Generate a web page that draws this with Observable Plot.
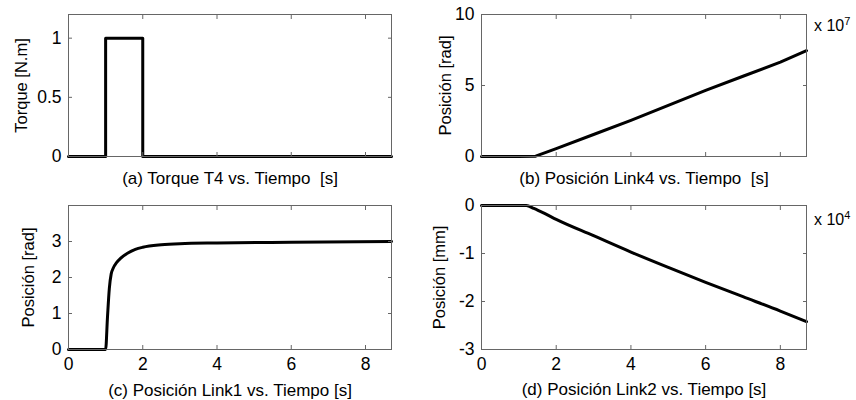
<!DOCTYPE html>
<html><head><meta charset="utf-8">
<script src="https://cdn.jsdelivr.net/npm/d3@7"></script>
<script src="https://cdn.jsdelivr.net/npm/@observablehq/plot@0.6"></script>
<style>
body{margin:0;background:#fff;}
#wrap{position:relative;width:856px;height:400px;font-family:"Liberation Sans",Arial,sans-serif;background:#fff;}
.p{position:absolute;}
.exp{position:absolute;font-size:16px;color:#000;white-space:nowrap;}
.exp sup{font-size:11px;}
</style></head><body><div id="wrap"></div>
<script>
// (a) Torque T4
const tA = [0, 1, 2, 8.7];
const torque = [0, 1, 0, 0];
// (b) Posición Link4 (x 10^7 rad)
const tB = [0, 1, 1.45, 2, 3, 4, 5, 6, 7, 8, 8.7];
const posLink4 = [0, 0, 0.02, 0.55, 1.55, 2.55, 3.6, 4.65, 5.65, 6.65, 7.45];
// (c) Posición Link1 (rad)
const tC = [0, 1, 1.05, 1.1, 1.15, 1.2, 1.3, 1.4, 1.6, 1.8, 2, 2.5, 3, 4, 6, 8.7];
const posLink1 = [0, 0, 0.9, 1.7, 2.1, 2.25, 2.42, 2.53, 2.68, 2.78, 2.84, 2.91, 2.94, 2.96, 2.98, 3.0];
// (d) Posición Link2 (x 10^4 mm)
const tD = [0, 1.2, 1.4, 1.7, 2, 3, 4, 5, 6, 7, 8, 8.7];
const posLink2 = [0, 0, -0.06, -0.17, -0.29, -0.63, -0.97, -1.29, -1.6, -1.9, -2.2, -2.42];

const xTicks = [0, 2, 4, 6, 8];
const xDomain = [0, 8.7];
const captions = ["(a) Torque T4 vs. Tiempo  [s]", "(b) Posición Link4 vs. Tiempo  [s]", "(c) Posición Link1 vs. Tiempo [s]", "(d) Posición Link2 vs. Tiempo [s]"];
const yLabels = ["Torque [N.m]", "Posición [rad]", "Posición [rad]", "Posición [mm]"];

const FONT = "Liberation Sans, Arial, sans-serif";
const fmt = d => String(d);
const blank = () => "";

function panel({t, v, curve, yDomain, yTicks, showX, caption, ylabel, left, top, w, h, ml, mr, mt, mb, capOffset, yOffset}) {
  const data = t.map((x, i) => ({t: x, v: v[i]}));
  const svg = Plot.plot({
    width: w, height: h,
    marginLeft: ml, marginRight: mr, marginTop: mt, marginBottom: mb,
    style: {fontFamily: FONT, fontSize: "17px", color: "#000", background: "transparent", overflow: "visible"},
    x: {domain: xDomain},
    y: {domain: yDomain},
    marks: [
      Plot.line(data, {x: "t", y: "v", curve, stroke: "#000", strokeWidth: 3}),
      Plot.frame({stroke: "#666"}),
      // tick marks + tick labels
      Plot.axisX({ticks: xTicks, tickSize: -4, tickPadding: 12, stroke: "#666", tickFormat: showX ? fmt : blank, fontSize: 17.5, label: null}),
      Plot.axisX({anchor: "top", ticks: xTicks, tickSize: -4, stroke: "#666", tickFormat: blank, label: null}),
      Plot.axisY({ticks: yTicks, tickSize: -4, tickPadding: 11, stroke: "#666", tickFormat: fmt, fontSize: 17.5, label: null}),
      Plot.axisY({anchor: "right", ticks: yTicks, tickSize: -4, stroke: "#666", tickFormat: blank, label: null}),
      // caption and axis title
      Plot.axisX({ticks: xTicks, tickSize: 0, tickFormat: blank, fontSize: 17,
        label: caption, labelAnchor: "center", labelArrow: "none", labelOffset: capOffset}),
      Plot.axisY({ticks: yTicks, tickSize: 0, tickFormat: blank, fontSize: 16.5,
        label: ylabel, labelAnchor: "center", labelArrow: "none", labelOffset: yOffset})
    ]
  });
  const d = document.createElement("div");
  d.className = "p";
  d.style.left = left + "px";
  d.style.top = top + "px";
  d.appendChild(svg);
  return d;
}

const wrap = document.getElementById("wrap");
wrap.appendChild(panel({t: tA, v: torque, curve: "step-after", yDomain: [0, 1.2], yTicks: [0, 0.5, 1], showX: false,
  caption: captions[0], ylabel: yLabels[0], left: 0, top: 0, w: 428, h: 195, ml: 68, mr: 37, mt: 14, mb: 39, capOffset: 27, yOffset: 53}));
wrap.appendChild(panel({t: tB, v: posLink4, curve: "linear", yDomain: [0, 10], yTicks: [0, 5, 10], showX: false,
  caption: captions[1], ylabel: yLabels[1], left: 428, top: 0, w: 428, h: 195, ml: 53, mr: 50, mt: 14, mb: 39, capOffset: 27, yOffset: 42}));
wrap.appendChild(panel({t: tC, v: posLink1, curve: "monotone-x", yDomain: [0, 4], yTicks: [0, 1, 2, 3], showX: true,
  caption: captions[2], ylabel: yLabels[2], left: 0, top: 195, w: 428, h: 205, ml: 68, mr: 37, mt: 10, mb: 51, capOffset: 46, yOffset: 46}));
wrap.appendChild(panel({t: tD, v: posLink2, curve: "monotone-x", yDomain: [-3, 0], yTicks: [-3, -2, -1, 0], showX: true,
  caption: captions[3], ylabel: yLabels[3], left: 428, top: 195, w: 428, h: 205, ml: 53, mr: 50, mt: 10, mb: 51, capOffset: 45, yOffset: 48}));

const e1 = document.createElement("div");
e1.className = "exp"; e1.innerHTML = "x 10<sup>7</sup>";
e1.style.left = "814px"; e1.style.top = "15px";
wrap.appendChild(e1);
const e2 = document.createElement("div");
e2.className = "exp"; e2.innerHTML = "x 10<sup>4</sup>";
e2.style.left = "814px"; e2.style.top = "209px";
wrap.appendChild(e2);
</script></body></html>
